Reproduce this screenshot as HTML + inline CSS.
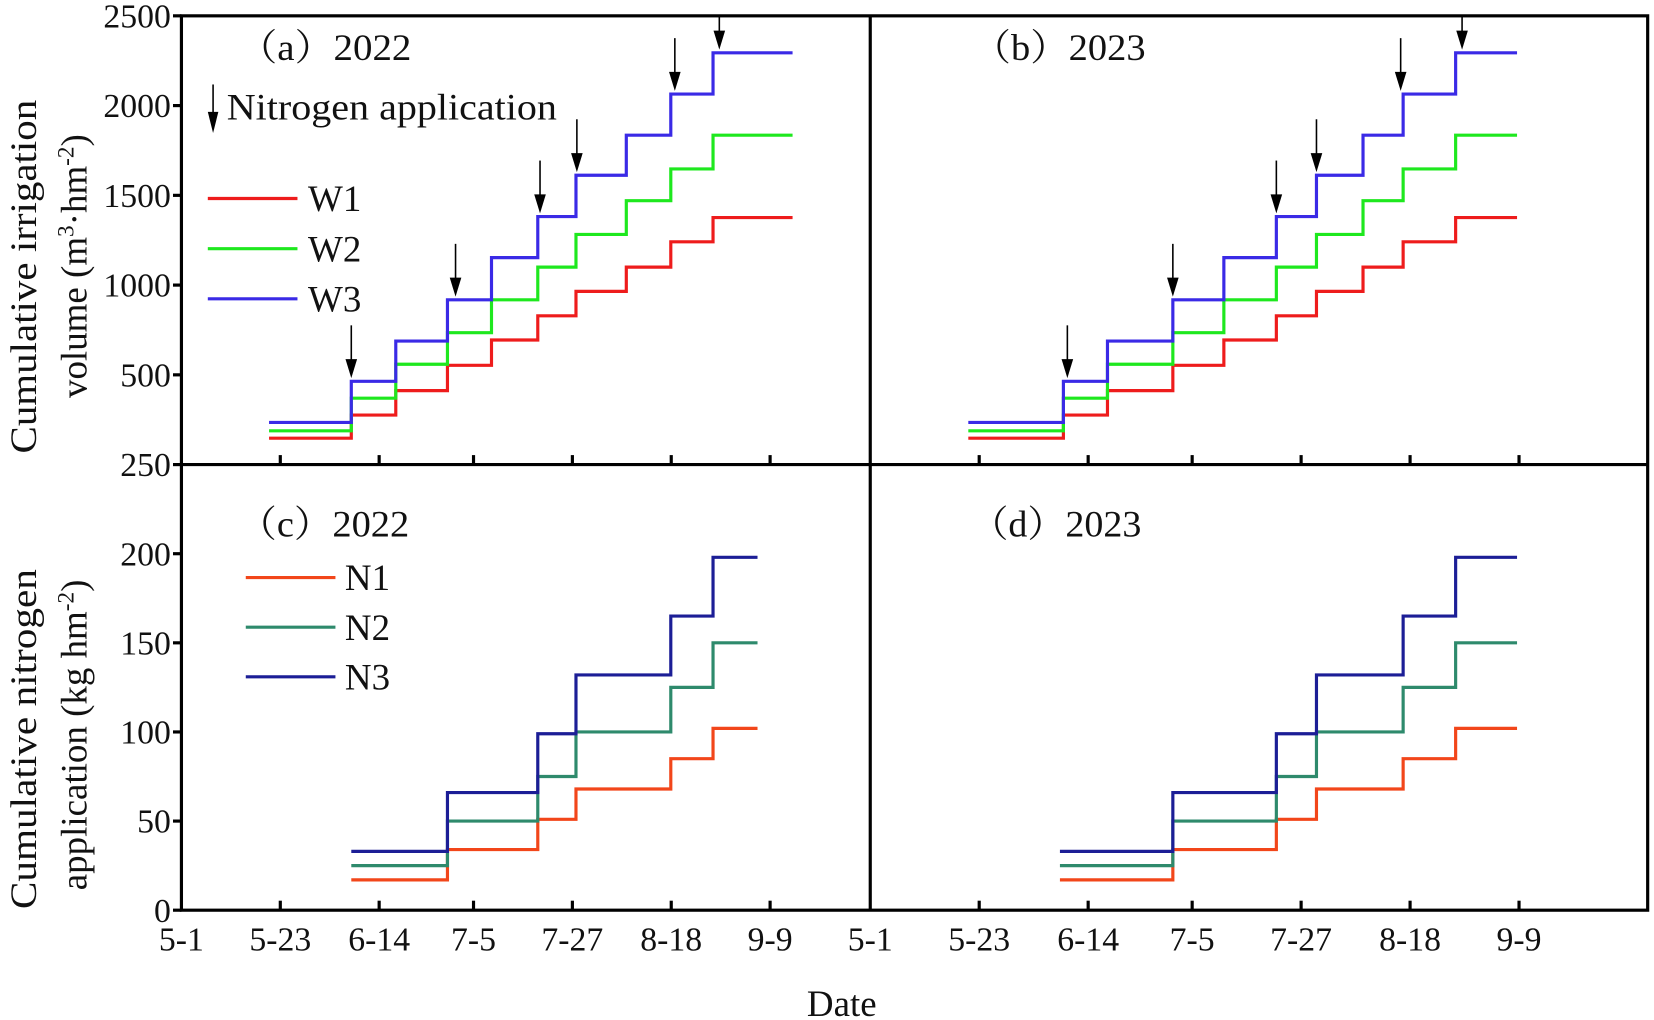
<!DOCTYPE html>
<html><head><meta charset="utf-8"><style>
html,body{margin:0;padding:0;background:#fff}
svg{display:block}
text{font-family:"Liberation Serif","Noto Serif CJK SC",serif;fill:#111}
</style></head><body>
<svg id="chart" width="1654" height="1020" viewBox="0 0 1568 966" preserveAspectRatio="none" xmlns="http://www.w3.org/2000/svg">
<g id="marks"></g>
<g id="frame" fill="none" stroke="#000" stroke-width="3">
<rect x="172" y="15" width="1390" height="847"/>
<line x1="825" y1="15" x2="825" y2="862"/>
<line x1="172" y1="440" x2="1562" y2="440"/>
</g>
<g id="labels">
<text x="226" y="57" font-size="35" textLength="164" lengthAdjust="spacingAndGlyphs">（a）2022</text>
<text x="922" y="57" font-size="35" textLength="164" lengthAdjust="spacingAndGlyphs">（b）2023</text>
<text x="226" y="508" font-size="35" textLength="162" lengthAdjust="spacingAndGlyphs">（c）2022</text>
<text x="920" y="508" font-size="35" textLength="162" lengthAdjust="spacingAndGlyphs">（d）2023</text>
<g>
<line x1="202" y1="80" x2="202" y2="108" stroke="#000" stroke-width="1.5"/>
<polygon points="197,106 207,106 202,126" fill="#000"/>
<text x="215" y="113" font-size="35" textLength="313" lengthAdjust="spacingAndGlyphs">Nitrogen application</text>
</g>
<text transform="translate(34,262) rotate(-90)" text-anchor="middle" font-size="35" textLength="335" lengthAdjust="spacingAndGlyphs">Cumulative irrigation</text>
<text transform="translate(82,252) rotate(-90)" text-anchor="middle" font-size="35">volume (m<tspan baseline-shift="super" font-size="22">3</tspan>·hm<tspan baseline-shift="super" font-size="22">-2</tspan>)</text>
<text transform="translate(34,700) rotate(-90)" text-anchor="middle" font-size="35" textLength="322" lengthAdjust="spacingAndGlyphs">Cumulative nitrogen</text>
<text transform="translate(82,696) rotate(-90)" text-anchor="middle" font-size="35">application (kg hm<tspan baseline-shift="super" font-size="22">-2</tspan>)</text>
<text x="798" y="962" text-anchor="middle" font-size="35">Date</text>
</g>
</svg>
<script>
// ---- data ----
const xTickLabels = ["5-1","5-23","6-14","7-5","7-27","8-18","9-9"];
const xTickDays = [0,22,44,65,87,109,131];
const yTicksTop = [500,1000,1500,2000,2500];
const yTicksBottom = [0,50,100,150,200,250];
const wSeries = ["W1","W2","W3"];
const W1 = [147,276,412,553,694,829,965,1100,1241,1376];
const W2 = [188,370,559,735,918,1100,1282,1470,1647,1835];
const W3 = [235,464,688,918,1153,1382,1612,1835,2064,2294];
const wDays2022 = [19.5,37.8,47.7,59.2,69,79.3,87.8,99,108.9,118.3];
const wEnd2022 = 136;
const wDays2023 = [19.8,39,47.9,61.1,71.4,82,90.1,99.5,107.6,118.2];
const wEnd2023 = 130.6;
const nSeries = ["N1","N2","N3"];
const N1 = [17,34,51,68,85,102];
const N2 = [25,50,75,100,125,150];
const N3 = [33,66,99,132,165,198];
const nDays2022 = [37.8,59.2,79.3,87.8,108.9,118.3];
const nEnd2022 = 128.2;
const nDays2023 = [38.3,61.1,82,90.1,107.6,118.2];
const nEnd2023 = 130.6;
const arrowDays2022 = [37.8,61,79.8,88,109.8,119.7];
const arrowDays2023 = [39.8,61.1,82,90.1,107.1,119.5];

const NS="http://www.w3.org/2000/svg";
const svg=document.getElementById('chart');
const marks=document.getElementById('marks');
function mk(t,a,p){const e=document.createElementNS(NS,t);for(const k in a)e.setAttribute(k,a[k]);(p||svg).appendChild(e);return e;}
const xL=d=>172+d*4.26, xR=d=>825+d*4.695;
const yTop=v=>440-v*0.17, yBot=v=>862-v*(422/250);
const wColors=["#ee1c1c","#1ee81e","#3a2ae6"];
const nColors=["#f2461a","#2e8a6c","#1c1e96"];

function stepPath(days,end,vals,xf,yf){
  let d=`M${xf(days[0])},${yf(vals[0])}`;
  for(let i=1;i<days.length;i++){d+=` H${xf(days[i])} V${yf(vals[i])}`;}
  d+=` H${xf(end)}`;return d;
}
function valAt(days,vals,day){let v=vals[0];for(let i=0;i<days.length;i++){if(day>=days[i]-0.01)v=vals[i];}return v;}

const wVals=[W1,W2,W3], nVals=[N1,N2,N3];
[["2022",wDays2022,wEnd2022,xL],["2023",wDays2023,wEnd2023,xR]].forEach(([yr,days,end,xf])=>{
  wVals.forEach((vals,i)=>{
    const p=mk('path',{d:stepPath(days,end,vals,xf,yTop),fill:'none',stroke:wColors[i],'stroke-width':3},marks);
    
    
  });
});
[["2022",nDays2022,nEnd2022,xL],["2023",nDays2023,nEnd2023,xR]].forEach(([yr,days,end,xf])=>{
  nVals.forEach((vals,i)=>{
    const p=mk('path',{d:stepPath(days,end,vals,xf,yBot),fill:'none',stroke:nColors[i],'stroke-width':3},marks);
    
    
  });
});
[["2022",arrowDays2022,wDays2022,xL],["2023",arrowDays2023,wDays2023,xR]].forEach(([yr,ad,wd,xf])=>{
  ad.forEach(day=>{
    const x=xf(day), tip=yTop(valAt(wd,W3,day+2.5))-3;
    const g=mk('g',{},marks);
    
    
    mk('line',{x1:x,y1:Math.max(15,tip-50),x2:x,y2:tip-16,stroke:'#000','stroke-width':1.5},g);
    mk('polygon',{points:`${x-5.5},${tip-18} ${x+5.5},${tip-18} ${x},${tip}`,fill:'#000'},g);
  });
});
const lg=mk('g',{});


wSeries.forEach((s,i)=>{
  const y=188+i*47.5;
  mk('line',{x1:197,y1:y,x2:282,y2:y,stroke:wColors[i],'stroke-width':3},lg);
  const t=mk('text',{x:292,y:y+12,'font-size':35},lg);t.textContent=s;
  
  
});
const ln=mk('g',{});


nSeries.forEach((s,i)=>{
  const y=547+i*47;
  mk('line',{x1:233,y1:y,x2:318,y2:y,stroke:nColors[i],'stroke-width':3},ln);
  const t=mk('text',{x:327,y:y+12,'font-size':35},ln);t.textContent=s;
  
  
});
const ax=mk('g',{});


[xL,xR].forEach((xf,pi)=>{
  xTickDays.forEach((d,i)=>{
    const x=xf(d);
    if(i>0){
      mk('line',{x1:x,y1:862,x2:x,y2:853,stroke:'#000','stroke-width':3},ax);
      mk('line',{x1:x,y1:440,x2:x,y2:431,stroke:'#000','stroke-width':3},ax);
    }
    const t=mk('text',{x:x,y:900,'text-anchor':'middle','font-size':32},ax);
    t.textContent=xTickLabels[i];
    
    
  });
});
yTicksTop.forEach(v=>{
  const y=yTop(v);
  mk('line',{x1:164,y1:y,x2:172,y2:y,stroke:'#000','stroke-width':3},ax);
  const t=mk('text',{x:162,y:y+11,'text-anchor':'end','font-size':32},ax);t.textContent=v;
  
  
});
yTicksBottom.forEach(v=>{
  const y=yBot(v);
  mk('line',{x1:164,y1:y,x2:172,y2:y,stroke:'#000','stroke-width':3},ax);
  const t=mk('text',{x:162,y:y+11,'text-anchor':'end','font-size':32},ax);t.textContent=v;
  
  
});
</script>
</body></html>
